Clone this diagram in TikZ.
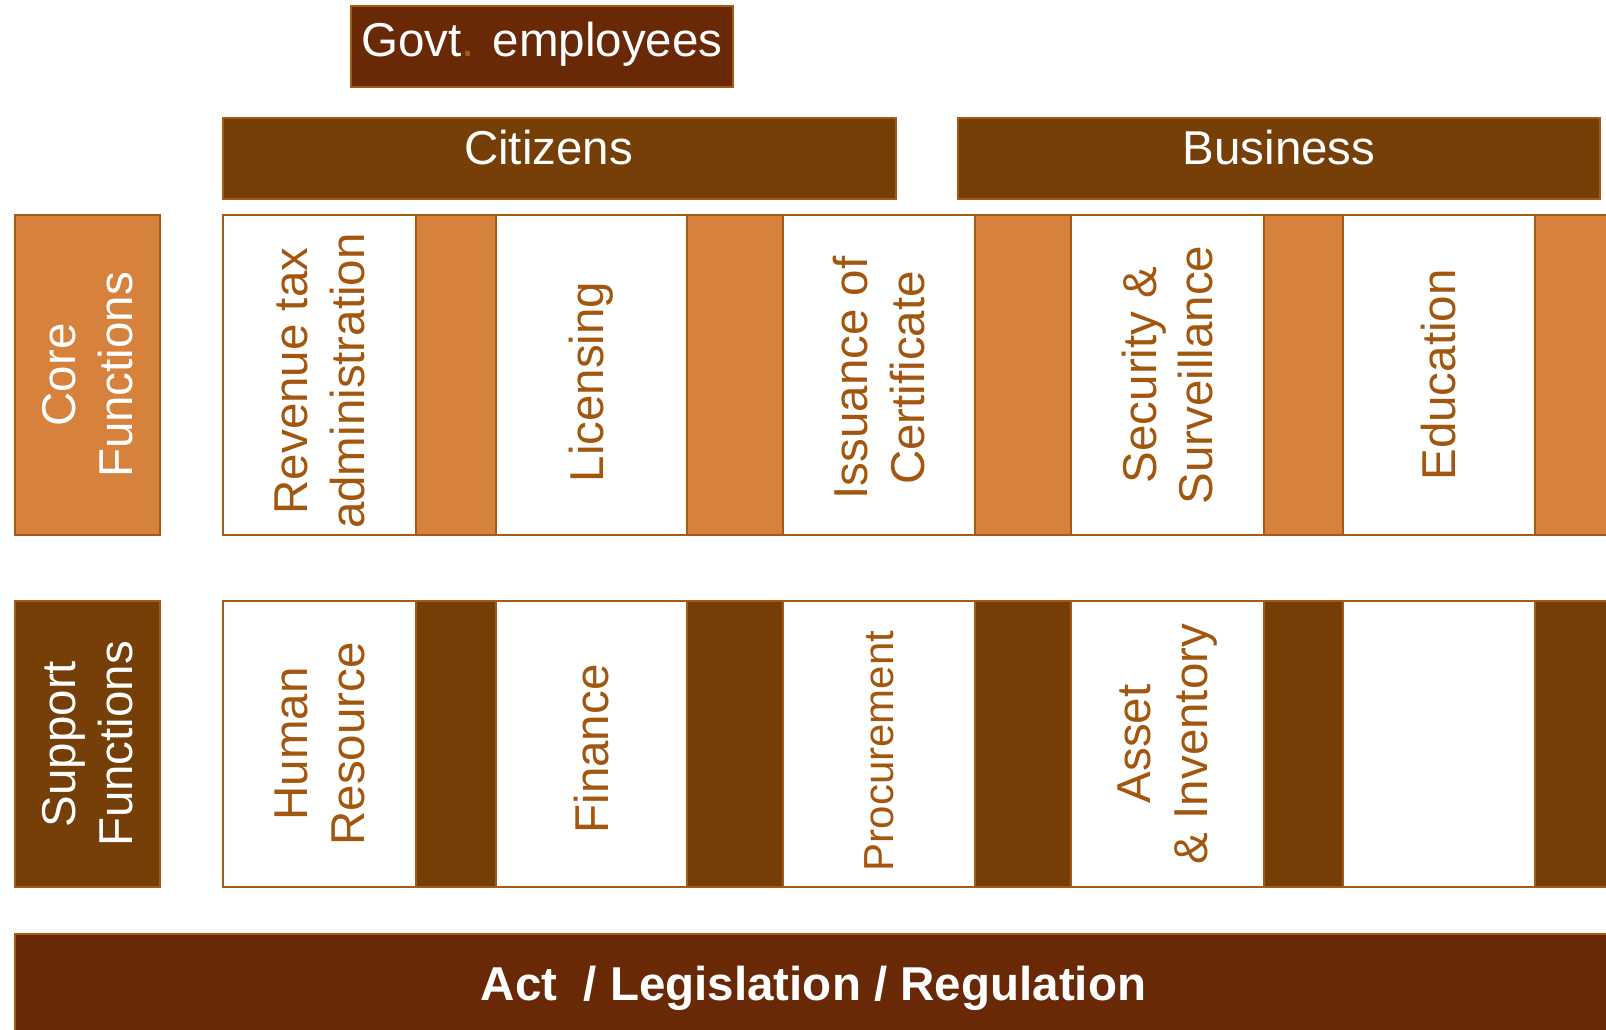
\documentclass[tikz,border=0pt]{standalone}
\usepackage{fontspec}
\setmainfont{Liberation Sans}
\usetikzlibrary{positioning}

\definecolor{coreorange}{HTML}{D6813C}
\definecolor{suppbrown}{HTML}{773F08}
\definecolor{deepbrown}{HTML}{6A2906}
\definecolor{edgebrown}{HTML}{A65A14}
\definecolor{textbrown}{HTML}{A3560E}

\newcommand{\boxfont}{\fontsize{23.75pt}{28.4pt}\selectfont}

\tikzset{
  box/.style={draw=edgebrown, line width=1pt, inner sep=0pt, outer sep=0pt},
  corecell/.style={box, fill=white, minimum height=160pt},
  coregap/.style={box, fill=coreorange, minimum height=160pt},
  supcell/.style={box, fill=white, minimum height=143pt},
  supgap/.style={box, fill=suppbrown, minimum height=143pt},
  banner/.style={box, fill=suppbrown, minimum height=40.5pt},
  sidetext/.style={rotate=90, align=center, text=white},
  celltext/.style={rotate=90, align=center, text=textbrown}
}

\begin{document}
\begin{tikzpicture}[x=0.5pt, y=-0.5pt, font=\boxfont]
    \useasboundingbox (0,0) rectangle (1606,1029);

    % Users on top
    \node (govt) [banner, fill=deepbrown, minimum width=191pt, anchor=north west, label={[text=white, yshift=1.2pt]center:Govt{\color{edgebrown}.} employees}] at (351,6) {};
    \node (citizens) [banner, minimum width=336.5pt, anchor=north west, label={[text=white, xshift=-5.5pt, yshift=5.4pt]center:Citizens}] at (223,118) {};
    \node (business) [banner, minimum width=321pt, anchor=north west, label={[text=white, yshift=5.4pt]center:Business}] at (958,118) {};

    % Core functions row
    \node (core) [coregap, minimum width=72.5pt, anchor=north west, label={[sidetext]center:Core\\Functions}] at (15,215) {};
    \node (revenue) [corecell, minimum width=96.5pt, anchor=north west, label={[yshift=-3pt, celltext]center:Revenue tax\\administration}] at (223,215) {};
    \node (cgap1) [coregap, minimum width=40pt, right=0pt of revenue] {};
    \node (licensing) [corecell, minimum width=95.5pt, right=0pt of cgap1, label={[yshift=-3.5pt, celltext]center:Licensing}] {};
    \node (cgap2) [coregap, minimum width=48pt, right=0pt of licensing] {};
    \node (certificate) [corecell, minimum width=96pt, right=0pt of cgap2, label={[yshift=-1.5pt, celltext]center:Issuance of\\Certificate}] {};
    \node (cgap3) [coregap, minimum width=48pt, right=0pt of certificate] {};
    \node (security) [corecell, minimum width=96.5pt, right=0pt of cgap3, label={[celltext]center:Security \&\\Surveillance}] {};
    \node (cgap4) [coregap, minimum width=39.5pt, right=0pt of security] {};
    \node (education) [corecell, minimum width=96pt, right=0pt of cgap4, label={[celltext]center:Education}] {};
    \node (cgap5) [coregap, minimum width=42.5pt, right=0pt of education] {};

    % Support functions row
    \node (support) [supgap, minimum width=72.5pt, anchor=north west, label={[sidetext]center:Support\\Functions}] at (15,601) {};
    \node (hr) [supcell, minimum width=96.5pt, anchor=north west, label={[celltext]center:Human\\Resource}] at (223,601) {};
    \node (sgap1) [supgap, minimum width=40pt, right=0pt of hr] {};
    \node (finance) [supcell, minimum width=95.5pt, right=0pt of sgap1, label={[yshift=-2.5pt, celltext]center:Finance}] {};
    \node (sgap2) [supgap, minimum width=48pt, right=0pt of finance] {};
    \node (procurement) [supcell, minimum width=96pt, right=0pt of sgap2, label={[yshift=-3.5pt, celltext, font=\fontsize{21pt}{25pt}\selectfont]center:Procurement}] {};
    \node (sgap3) [supgap, minimum width=48pt, right=0pt of procurement] {};
    \node (asset) [supcell, minimum width=96.5pt, right=0pt of sgap3, label={[celltext]center:Asset\\\& Inventory}] {};
    \node (sgap4) [supgap, minimum width=39.5pt, right=0pt of asset] {};
    \node (blank) [supcell, minimum width=96pt, right=0pt of sgap4] {};
    \node (sgap5) [supgap, minimum width=42.5pt, right=0pt of blank] {};

    % Legal base
    \node (act) [box, fill=deepbrown, minimum width=802.5pt, minimum height=54.5pt, anchor=north west, label={[text=white, xshift=-2pt, font=\boxfont\bfseries]center:Act\ \ / Legislation / Regulation}] at (15,934) {};
\end{tikzpicture}
\end{document}
